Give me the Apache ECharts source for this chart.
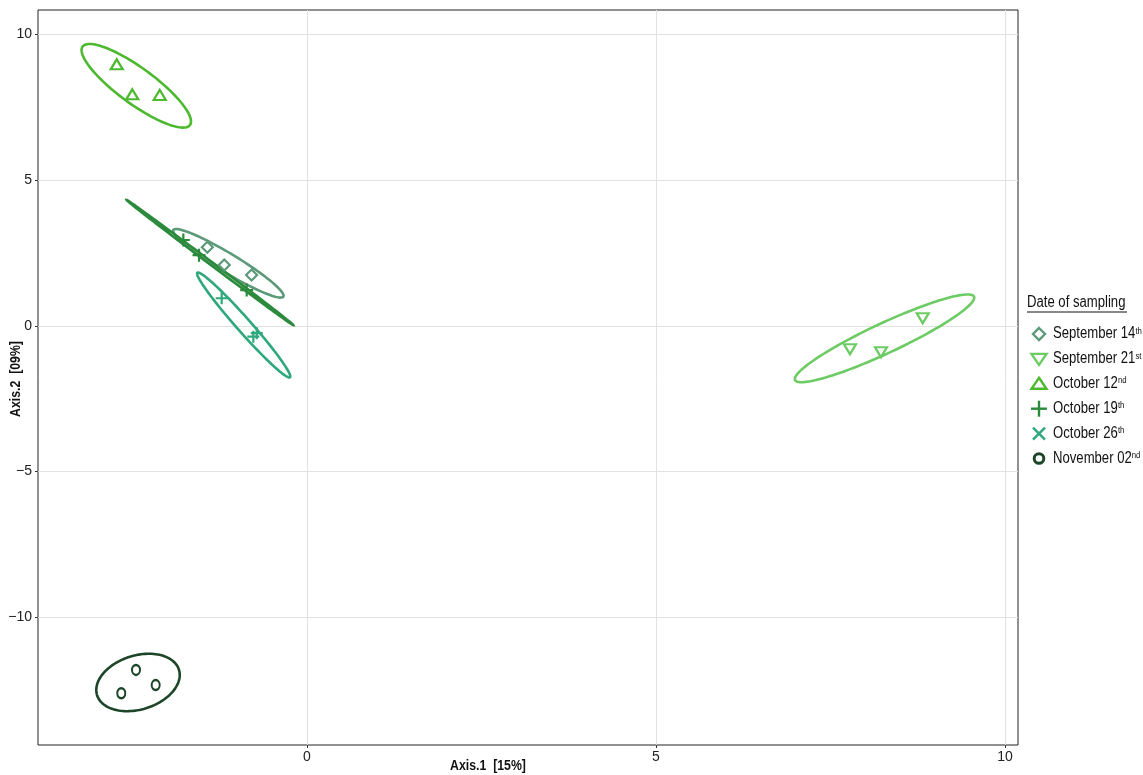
<!DOCTYPE html>
<html>
<head>
<meta charset="utf-8">
<script src="https://cdn.jsdelivr.net/npm/echarts@6/dist/echarts.min.js"></script>
<style>
  html, body { margin: 0; padding: 0; background: #fff; }
  #chart { width: 1143px; height: 775px; }
</style>
</head>
<body>
<div id="chart"></div>
<script>
// Sampling dates, their ordinal suffixes and colours
const groupNames = ['September 14', 'September 21', 'October 12', 'October 19', 'October 26', 'November 02'];
const groupSuffixes = ['th', 'st', 'nd', 'th', 'th', 'nd'];
const groupColors = ['#5b9a78', '#6dcb64', '#4cb92f', '#2b8a3c', '#2fa87c', '#1d4527'];

// PCoA coordinates [Axis.1, Axis.2] of each sample
const sep14Points = [[-1.428, 2.70], [-1.186, 2.09], [-0.794, 1.75]];
const sep21Points = [[7.779, -0.803], [8.223, -0.906], [8.821, 0.261]];
const oct12Points = [[-2.726, 8.98], [-2.503, 7.95], [-2.110, 7.93]];
const oct19Points = [[-1.772, 2.95], [-1.547, 2.43], [-0.864, 1.23]];
const oct26Points = [[-1.222, 0.95], [-0.769, -0.37], [-0.720, -0.25]];
const nov02Points = [[-2.450, -11.81], [-2.168, -12.33], [-2.661, -12.61]];

// Confidence ellipses: [centreX, centreY, axisAx, axisAy, axisBx, axisBy] in axis units
const sep14Ellipse = [-1.127, 2.149, 0.788, -1.143, 0.0705, 0.279];
const sep21Ellipse = [8.274, -0.426, 1.282, 1.432, 0.0907, -0.467];
const oct12Ellipse = [-2.446, 8.243, 0.769, -1.346, 0.152, 0.498];
const oct19Ellipse = [-1.390, 2.176, 1.193, -2.146, 0.0129, 0.0412];
const oct26Ellipse = [-0.907, 0.031, 0.663, -1.795, 0.075, 0.159];
const nov02Ellipse = [-2.421, -12.24, 0.587, 0.433, 0.113, -0.886];

// Axis ranges and labelled ticks
const xRange = [-3.854, 10.186];
const yRange = [-14.387, 10.845];
const xTickLabels = [0, 5, 10];
const yTickLabels = [-10, -5, 0, 5, 10];
const xTitle = 'Axis.1  [15%]';
const yTitle = 'Axis.2  [09%]';
const legendTitle = 'Date of sampling';

const pointSets = [sep14Points, sep21Points, oct12Points, oct19Points, oct26Points, nov02Points];
const ellipseSets = [sep14Ellipse, sep21Ellipse, oct12Ellipse, oct19Ellipse, oct26Ellipse, nov02Ellipse];

const FONT = '"Liberation Sans", Arial, Helvetica, sans-serif';
const NARROW = 0.82; // horizontal squeeze giving a condensed Helvetica look
const INK = '#111';

const SYM = {
  diamond: 'path://M0,-1L1,0L0,1L-1,0Z',
  triDown: 'path://M-1,-0.85L1,-0.85L0,0.85Z',
  triUp: 'path://M0,-0.85L1,0.85L-1,0.85Z',
  plus: 'path://M0,-1L0,1M-1,0L1,0'
};
const plotSymbols = [SYM.diamond, SYM.triDown, SYM.triUp, SYM.plus, SYM.plus, 'circle'];
const plotSizes = [[11, 11], [12, 10], [12, 10], [13, 13], [12, 12], [8, 10]];

function ellipseRenderer(color) {
  return function (params, api) {
    const cx = api.value(0), cy = api.value(1);
    const ax = api.value(2), ay = api.value(3);
    const bx = api.value(4), by = api.value(5);
    const pts = [];
    const n = 120;
    for (let k = 0; k < n; k++) {
      const t = 2 * Math.PI * k / n;
      const c = Math.cos(t), s = Math.sin(t);
      pts.push(api.coord([cx + ax * c + bx * s, cy + ay * c + by * s]));
    }
    return {
      type: 'polygon',
      shape: { points: pts },
      style: { fill: 'none', stroke: color, lineWidth: 2.6 }
    };
  };
}

const series = [];
groupNames.forEach((name, i) => {
  series.push({
    name: name,
    type: 'custom',
    coordinateSystem: 'cartesian2d',
    renderItem: ellipseRenderer(groupColors[i]),
    encode: { x: 0, y: 1 },
    data: [ellipseSets[i]],
    silent: true,
    z: 2
  });
});
groupNames.forEach((name, i) => {
  series.push({
    name: name,
    type: 'scatter',
    symbol: plotSymbols[i],
    symbolSize: plotSizes[i],
    itemStyle: { color: 'rgba(0,0,0,0)', borderColor: groupColors[i], borderWidth: 2.2, opacity: 1 },
    data: pointSets[i],
    z: 3
  });
});

const minus = v => (v < 0 ? '\u2212' + Math.abs(v) : String(v));

// Legend key built from icons and condensed labels
const legendGraphics = [];
const legendTop = 334;
const legendStep = 24.9;
groupNames.forEach((name, i) => {
  const cy = legendTop + legendStep * i;
  const cx = 1039;
  const col = groupColors[i];
  const st = { fill: 'none', stroke: col, lineWidth: 2.4 };
  if (i === 0) {
    legendGraphics.push({ type: 'polygon', shape: { points: [[cx, cy - 6], [cx + 6, cy], [cx, cy + 6], [cx - 6, cy]] }, style: st });
  } else if (i === 1) {
    legendGraphics.push({ type: 'polygon', shape: { points: [[cx - 7.5, cy - 5], [cx + 7.5, cy - 5], [cx, cy + 6]] }, style: st });
  } else if (i === 2) {
    legendGraphics.push({ type: 'polygon', shape: { points: [[cx, cy - 6], [cx + 7.5, cy + 5], [cx - 7.5, cy + 5]] }, style: st });
  } else if (i === 3) {
    legendGraphics.push({ type: 'line', shape: { x1: cx - 8, y1: cy, x2: cx + 8, y2: cy }, style: st });
    legendGraphics.push({ type: 'line', shape: { x1: cx, y1: cy - 8, x2: cx, y2: cy + 8 }, style: st });
  } else if (i === 4) {
    legendGraphics.push({ type: 'line', shape: { x1: cx - 6, y1: cy - 6, x2: cx + 6, y2: cy + 6 }, style: st });
    legendGraphics.push({ type: 'line', shape: { x1: cx - 6, y1: cy + 6, x2: cx + 6, y2: cy - 6 }, style: st });
  } else {
    legendGraphics.push({ type: 'circle', shape: { cx: cx, cy: cy, r: 4.8 }, style: { fill: 'none', stroke: col, lineWidth: 3 } });
  }
  legendGraphics.push({
    type: 'text', x: 1053, y: cy, scaleX: NARROW,
    style: {
      text: '{n|' + name + '}{s|' + groupSuffixes[i] + '}',
      textAlign: 'left', textVerticalAlign: 'middle',
      rich: {
        n: { fontFamily: FONT, fontSize: 16, fill: INK, lineHeight: 16 },
        s: { fontFamily: FONT, fontSize: 9.5, fill: INK, lineHeight: 16, verticalAlign: 'top' }
      }
    }
  });
});

const option = {
  animation: false,
  backgroundColor: '#fff',
  textStyle: { fontFamily: FONT },
  grid: {
    left: 38, top: 10, width: 980, height: 735,
    show: true, borderColor: '#222', borderWidth: 1, backgroundColor: '#fff'
  },
  xAxis: {
    type: 'value',
    min: xRange[0], max: xRange[1],
    minInterval: 2.5, maxInterval: 2.5,
    axisLine: { show: false, onZero: false },
    axisTick: { show: true, length: 3, customValues: xTickLabels, lineStyle: { color: '#333' } },
    axisLabel: {
      customValues: xTickLabels, formatter: minus, margin: 5,
      fontSize: 14, color: '#222', fontFamily: FONT
    },
    splitLine: { show: true, lineStyle: { color: '#e2e2e2', width: 1 } }
  },
  yAxis: {
    type: 'value',
    min: yRange[0], max: yRange[1],
    minInterval: 2.5, maxInterval: 2.5,
    axisLine: { show: false, onZero: false },
    axisTick: { show: true, length: 3, customValues: yTickLabels, lineStyle: { color: '#333' } },
    axisLabel: {
      customValues: yTickLabels, formatter: minus, margin: 6,
      fontSize: 14, color: '#222', fontFamily: FONT
    },
    splitLine: { show: true, lineStyle: { color: '#e2e2e2', width: 1 } }
  },
  graphic: [
    {
      type: 'text', x: 488, y: 766, scaleX: NARROW,
      style: { text: xTitle, font: 'bold 15px ' + FONT, fill: INK, textAlign: 'center', textVerticalAlign: 'middle' }
    },
    {
      type: 'text', x: 16, y: 379, rotation: Math.PI / 2, scaleX: NARROW,
      style: { text: yTitle, font: 'bold 15px ' + FONT, fill: INK, textAlign: 'center', textVerticalAlign: 'middle' }
    },
    {
      type: 'text', x: 1027, y: 303, scaleX: NARROW,
      style: { text: legendTitle, font: '16px ' + FONT, fill: INK, textAlign: 'left', textVerticalAlign: 'middle' }
    },
    {
      type: 'line',
      shape: { x1: 1027, y1: 312, x2: 1127, y2: 312 },
      style: { stroke: INK, lineWidth: 1 }
    }
  ].concat(legendGraphics),
  series: series
};

const chart = echarts.init(document.getElementById('chart'), null, { renderer: 'canvas' });
chart.setOption(option);
</script>
</body>
</html>
